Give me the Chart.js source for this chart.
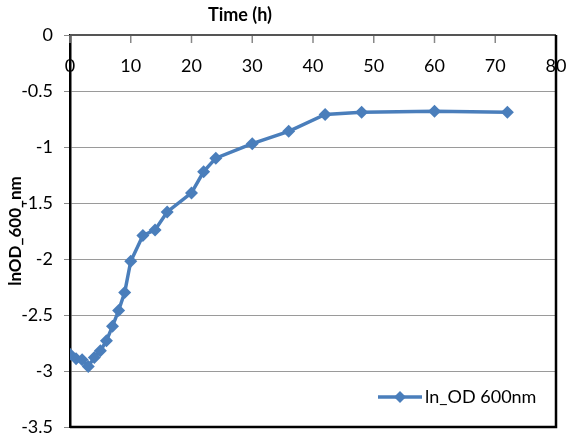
<!DOCTYPE html>
<html>
<head>
<meta charset="utf-8">
<script src="https://cdn.jsdelivr.net/npm/chart.js@4.4.1/dist/chart.umd.min.js"></script>
<style>
  html, body { margin: 0; padding: 0; background: #fff; }
  #wrap { width: 568px; height: 437px; }
</style>
</head>
<body>
<div id="wrap"><canvas id="grafico" width="568" height="437"></canvas></div>
<script>
// ===============================
// DATOS
// ===============================
const horas = [0, 1, 2, 3, 4, 5, 6, 7, 8, 9, 10, 12, 14, 16, 20, 22, 24, 30, 36, 42, 48, 60, 72];
const lnOD = [-2.85, -2.89, -2.90, -2.96, -2.88, -2.82, -2.73, -2.60, -2.46, -2.30, -2.02, -1.79, -1.74, -1.58, -1.41, -1.22, -1.10, -0.97, -0.86, -0.71, -0.69, -0.68, -0.69];
const serieNombre = "ln_OD 600nm";
const tituloX = "Time (h)";
const tituloY = "lnOD_600_nm";
const ejeX = [0, 80, 10];     // min, max, paso
const ejeY = [-3.5, 0, 0.5];  // min, max, paso

const azul = "#4a7ebb";
const fuente = "Lato";

// ===============================
// PLUGINS: marco, marcas del eje X, titulo y leyenda
// ===============================
const marco = {
  id: "marco",
  beforeDatasetsDraw(chart) {
    const { ctx, chartArea: a } = chart;
    const sx = chart.scales.x;
    ctx.save();
    // marcas hacia abajo del eje superior
    ctx.strokeStyle = "#888";
    ctx.lineWidth = 1.5;
    sx.ticks.forEach(t => {
      const px = sx.getPixelForValue(t.value);
      ctx.beginPath();
      ctx.moveTo(px, a.top);
      ctx.lineTo(px, a.top + 8);
      ctx.stroke();
    });
    // eje superior
    ctx.strokeStyle = "#555";
    ctx.lineWidth = 2;
    ctx.beginPath();
    ctx.moveTo(a.left, a.top);
    ctx.lineTo(a.right, a.top);
    ctx.stroke();
    // borde derecho e inferior
    ctx.strokeStyle = "#000";
    ctx.lineWidth = 2.5;
    ctx.beginPath();
    ctx.moveTo(a.right, a.top);
    ctx.lineTo(a.right, a.bottom);
    ctx.lineTo(a.left, a.bottom);
    ctx.stroke();
    ctx.restore();
  },
  afterDraw(chart) {
    const { ctx, chartArea: a } = chart;
    const ds = chart.data.datasets[0];
    ctx.save();
    // titulo del eje X
    ctx.fillStyle = "#000";
    ctx.font = "bold 18px " + fuente;
    ctx.textAlign = "center";
    ctx.textBaseline = "middle";
    ctx.fillText(tituloX, a.left + 170, 15);
    // leyenda
    const ly = a.bottom - 30;
    const lx = a.right - 178;
    ctx.strokeStyle = ds.borderColor;
    ctx.lineWidth = ds.borderWidth;
    ctx.beginPath();
    ctx.moveTo(lx, ly);
    ctx.lineTo(lx + 44, ly);
    ctx.stroke();
    ctx.fillStyle = ds.backgroundColor;
    ctx.beginPath();
    ctx.moveTo(lx + 22, ly - 6);
    ctx.lineTo(lx + 28, ly);
    ctx.lineTo(lx + 22, ly + 6);
    ctx.lineTo(lx + 16, ly);
    ctx.closePath();
    ctx.fill();
    ctx.fillStyle = "#000";
    ctx.font = "18px " + fuente;
    ctx.textAlign = "left";
    ctx.fillText(ds.label, lx + 47, ly);
    ctx.restore();
  }
};

// ===============================
// GRAFICA
// ===============================
new Chart(document.getElementById("grafico"), {
  type: "line",
  data: {
    datasets: [{
      label: serieNombre,
      data: horas.map((h, i) => ({ x: h, y: lnOD[i] })),
      borderColor: azul,
      backgroundColor: azul,
      borderWidth: 3.5,
      pointStyle: "rectRot",
      pointRadius: 6.5,
      pointBorderWidth: 0,
      tension: 0
    }]
  },
  options: {
    responsive: false,
    animation: false,
    layout: { padding: { top: 0, left: 0, right: 12, bottom: 10 } },
    plugins: {
      legend: { display: false },
      tooltip: { enabled: false }
    },
    scales: {
      x: {
        type: "linear",
        position: "top",
        min: ejeX[0],
        max: ejeX[1],
        // altura fija y sin relleno lateral por las etiquetas
        afterFit: s => { s.height = 35; s.paddingLeft = 0; s.paddingRight = 0; },
        grid: { display: false },
        border: { display: false },
        ticks: {
          stepSize: ejeX[2],
          mirror: true,
          padding: 20,
          color: "#000",
          maxRotation: 0,
          font: { family: fuente, size: 18 }
        }
      },
      y: {
        min: ejeY[0],
        max: ejeY[1],
        afterFit: s => { s.width = 70; s.paddingTop = 0; s.paddingBottom = 0; },
        grid: { color: "#9a9a9a", lineWidth: 1, tickLength: 6, tickColor: "#888" },
        border: { color: "#000", width: 2.5 },
        ticks: {
          stepSize: ejeY[2],
          padding: 11,
          color: "#000",
          font: { family: fuente, size: 18 },
          callback: v => String(v)
        },
        title: {
          display: true,
          text: tituloY,
          color: "#000",
          font: { family: fuente, size: 17, weight: "bold" },
          padding: { top: 5, bottom: 0 }
        }
      }
    }
  },
  plugins: [marco]
});
</script>
</body>
</html>
